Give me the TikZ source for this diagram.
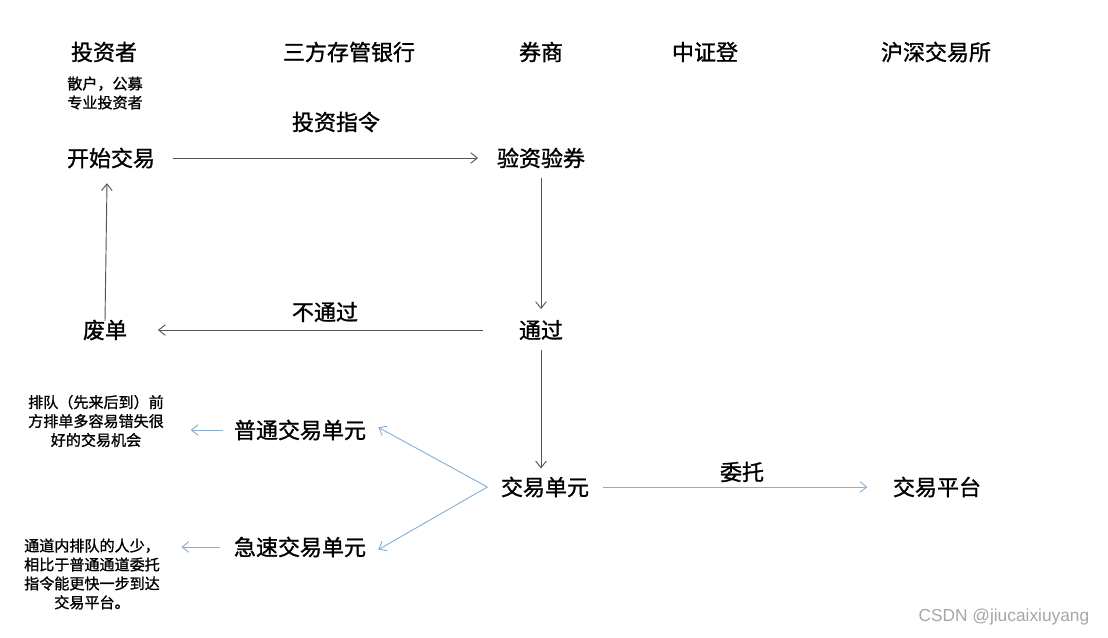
\documentclass[tikz,border=0pt]{standalone}
\usepackage{fontspec}
\setmainfont{Noto Sans CJK SC}[FakeBold=1.2]
\newfontfamily\wmfont{Liberation Sans}
\usetikzlibrary{arrows.meta}
\definecolor{lgray}{HTML}{555555}
\definecolor{lblue}{HTML}{8AAED0}
\begin{document}
\begin{tikzpicture}[x=0.75pt,y=-0.75pt,
  head/.style={font=\fontsize{16.5}{18}\selectfont, inner sep=2pt},
  lab/.style={font=\fontsize{16.5}{18}\selectfont, inner sep=2pt},
  note/.style={font=\fontsize{11.3}{14.2}\selectfont, align=center, inner sep=1pt},
  garr/.style={draw=lgray, line width=0.7pt, -{Straight Barb[length=5pt,width=8pt]}},
  barr/.style={draw=lblue, line width=0.7pt, -{Straight Barb[length=5pt,width=8pt]}}]
\useasboundingbox (0,0) rectangle (1108,637);
% headings
\node[head] (h1) at (104,52) {投资者};
\node[head] (h2) at (349,52) {三方存管银行};
\node[head] (h3) at (541,52) {券商};
\node[head] (h4) at (705,52) {中证登};
\node[head] (h5) at (936,52) {沪深交易所};
\node[note] (inv) at (105,93) {散户，公募\\专业投资者};
% nodes
\node[lab] (start) at (111,158) {开始交易};
\node[lab] (check) at (541,158) {验资验券};
\node[lab] (pass) at (541,330) {通过};
\node[lab] (waste) at (105,330) {废单};
\node[lab] (unit) at (545,487) {交易单元};
\node[lab] (normal) at (300,430) {普通交易单元};
\node[lab] (fast) at (300,547) {急速交易单元};
\node[lab] (plat) at (937,487) {交易平台};
% edge labels
\node[lab] (l1) at (336,122) {投资指令};
\node[lab] (l2) at (325,312) {不通过};
\node[lab] (l3) at (742,472) {委托};
% notes
\node[note] (n1) at (96,421) {排队（先来后到）前\\方排单多容易错失很\\好的交易机会};
\node[note] (n2) at (92,574) {通道内排队的人少，\\相比于普通通道委托\\指令能更快一步到达\\交易平台。};
% connectors
\draw[garr] ([xshift=11pt]start.east) -- ([xshift=-12pt]check.west);
\draw[garr] ([yshift=-5pt]check.south) -- ([yshift=6pt]pass.north);
\draw[garr] ([xshift=-25pt]pass.west) -- ([xshift=21pt]waste.east);
\draw[garr] ([yshift=-3pt]waste.north) -- ([xshift=-3pt,yshift=-9pt]start.south);
\draw[garr] ([yshift=-5pt]pass.south) -- ([yshift=4pt]pass.south |- unit.north);
\draw[barr] ([xshift=-8pt]unit.west) -- ([xshift=7pt,yshift=2pt]normal.east);
\draw[barr] ([xshift=-8pt]unit.west) -- ([xshift=7pt,yshift=-2pt]fast.east);
\draw[barr] ([xshift=8pt]unit.east) -- ([xshift=-17pt]plat.west);
\draw[barr] ([xshift=-6pt]normal.west) -- ([xshift=19pt]n1.east |- normal.west);
\draw[barr] ([xshift=-8pt]fast.west) -- ([xshift=15pt]n2.east |- fast.west);
% watermark
\node[font=\wmfont\fontsize{13}{15}\selectfont, text=gray!70, anchor=east] (wm) at (1094,617) {CSDN @jiucaixiuyang};
\end{tikzpicture}
\end{document}
